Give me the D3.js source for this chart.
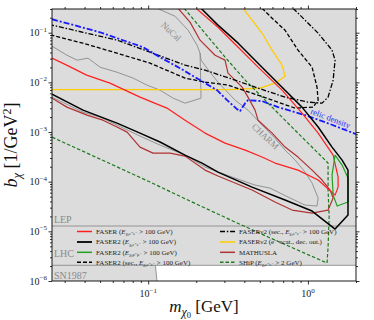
<!DOCTYPE html>
<html>
<head>
<meta charset="utf-8">
<script src="https://cdn.jsdelivr.net/npm/d3@7"></script>
<style>
body { margin: 0; background: #fff; }
svg text { font-family: "Liberation Serif", "DejaVu Serif", serif; }
</style>
</head>
<body>
<div id="graph"></div>
<script>
// axis ranges and ticks
var xDomain = [0.025, 2];
var yDomain = [1e-6, 0.3];
var xMajorExps = [-1, 0];
var yMajorExps = [-1, -2, -3, -4, -5, -6];

// excluded regions (LEP / LHC / SN1987 boundaries)
var lepBound = 1.28e-5;
var snBound = 2.07e-6;
var snEdge = [[0.111, 2.07e-6], [0.1135, 1e-6]];

// curves, [m_chi0 (GeV), b_chi (1/GeV^2)]
var faser = [[0.1995,0.31],[0.2735,0.129],[0.366,0.051],[0.4875,0.0202],[0.689,0.00697],[0.918,0.0024],
  [1.159,0.000951],[1.439,0.000343],[1.545,0.000124],[1.545,7.78e-5],[1.479,5.37e-5],[1.159,0.000108],
  [0.867,0.000171],[0.622,0.000237],[0.516,0.000313],[0.405,0.000432],[0.303,0.000598],[0.227,0.000951],
  [0.1702,0.00173],[0.131,0.00303],[0.0889,0.00504],[0.0577,0.00964],[0.0412,0.014],[0.0309,0.0222],[0.025,0.0307]];

var faser2 = [[0.2143,0.31],[0.2735,0.142],[0.366,0.0615],[0.516,0.0202],[0.689,0.008],[0.918,0.00317],
  [1.159,0.00126],[1.416,0.000497],[1.637,0.000272],[1.782,0.000171],[1.782,2.13e-5],[1.479,1.11e-5],
  [1.062,2.56e-5],[0.719,4.27e-5],[0.447,7.78e-5],[0.2735,0.000156],[0.2173,0.000237],[0.170,0.000343],
  [0.1186,0.00063],[0.0889,0.000951],[0.0638,0.00151],[0.0391,0.00276],[0.025,0.0058]];

var faser2mu = [[1.479,0.000343],[1.637,0.000216],[1.782,0.000118],[1.782,3.89e-5],[1.524,3.23e-5],
  [1.439,5.37e-5],[1.416,0.000136],[1.479,0.000343]];

var faser2sec = [[0.5164,0.31],[0.597,0.196],[0.7194,0.112],[0.867,0.0445],[1.062,0.0202],[1.14,0.008],
  [1.159,0.00438],[1.077,0.00317],[0.8318,0.00303],[0.6223,0.00419],[0.4467,0.00607],[0.3162,0.00879],
  [0.227,0.0101],[0.1702,0.0122],[0.1028,0.0243],[0.0638,0.0387],[0.0391,0.0615],[0.025,0.0891]];

var faserNu2sec = [[0.8072,0.31],[0.9594,0.179],[1.159,0.0977],[1.416,0.0445],[1.479,0.028],[1.439,0.0111],
  [1.337,0.00504],[1.227,0.00381],[1.002,0.004],[0.7194,0.00504],[0.4875,0.00764],[0.35,0.0111],
  [0.227,0.0176],[0.1702,0.0222],[0.1028,0.0405],[0.0638,0.0707],[0.0391,0.102],[0.025,0.142]];

var faserNu2scat = [[0.3926,0.31],[0.4467,0.179],[0.5164,0.0977],[0.597,0.0445],[0.6887,0.0222],
  [0.7194,0.0133],[0.6223,0.00964],[0.501,0.00764],[0.3258,0.00713],[0.025,0.00713]];

var mathusla = [[0.1538,0.31],[0.1828,0.163],[0.2113,0.0707],[0.2624,0.0352],[0.3027,0.028],[0.3162,0.0153],
  [0.3873,0.008],[0.4217,0.00504],[0.4667,0.00276],[0.4875,0.00173],[0.597,0.000951],[0.7194,0.000497],
  [0.867,0.000313],[1.062,0.000171],[1.227,0.000108],[1.377,6.78e-5],[1.439,4.68e-5],[1.337,2.68e-5],
  [1.062,2.33e-5],[0.796,2.68e-5],[0.622,3.89e-5],[0.447,6.78e-5],[0.2735,0.00013],[0.227,0.000171],
  [0.170,0.000327],[0.137,0.000376],[0.1072,0.000376],[0.0889,0.000497],[0.0738,0.000995],
  [0.0638,0.00126],[0.0521,0.00173],[0.0414,0.00219],[0.031,0.00317],[0.025,0.00481]];

var ship = [[0.168,0.31],[0.227,0.0977],[0.303,0.0321],[0.405,0.0111],[0.5395,0.00438],[0.719,0.00173],
  [0.959,0.000687],[1.109,0.000432],[1.337,0.000237],[1.337,6.78e-5],[1.358,1.94e-5],[1.337,4.83e-6],
  [1.318,2.3e-6],[0.918,3.84e-6],[0.5636,7.67e-6],[0.35,1.54e-5],[0.1828,4.07e-5],[0.1028,9.82e-5],
  [0.05,0.000285],[0.025,0.000789]];

var relic = [[0.025,0.187],[0.05,0.102],[0.0929,0.051],[0.1186,0.0321],[0.1581,0.0193],[0.1828,0.0146],
  [0.2698,0.00697],[0.3119,0.00438],[0.3597,0.00289],[0.3758,0.00264],[0.4046,0.00381],[0.4217,0.00438],
  [0.5164,0.00419],[0.6501,0.00317],[0.9594,0.00219],[1.279,0.00158],[2.0,0.000908]];

var nucal = [[0.1135,0.31],[0.1472,0.215],[0.1778,0.112],[0.2023,0.056],[0.2113,0.0387],[0.2143,0.00481],
  [0.1702,0.00381],[0.1432,0.00481],[0.1186,0.00697],[0.0984,0.00879],[0.0804,0.0122],[0.0638,0.016],
  [0.05,0.0202],[0.042,0.0307],[0.0359,0.028],[0.031,0.0352],[0.025,0.0535]];

var charm = [[0.2113,0.0387],[0.2143,0.028],[0.2438,0.016],[0.2735,0.0101],[0.35,0.00438],[0.4217,0.00276],
  [0.5164,0.00138],[0.6223,0.00075],[0.7194,0.000432],[0.8318,0.000272],[0.9594,0.000156],[1.062,9.38e-5],
  [1.159,4.68e-5],[1.14,3.23e-5],[0.9594,3.38e-5],[0.773,4.68e-5],[0.579,7.43e-5],[0.4667,8.55e-5],
  [0.335,0.000124],[0.227,0.000197],[0.1702,0.000343],[0.1186,0.000545],[0.0889,0.000828],
  [0.0638,0.00138],[0.05,0.002],[0.0391,0.00251],[0.025,0.00504]];

// curve labels: text, position, angle
var curveLabels = [
  {text: "NuCal", at: [0.138, 0.102], angle: 43, color: "#8a8a8a", size: 9},
  {text: "CHARM", at: [0.536, 0.000788], angle: 43, color: "#8a8a8a", size: 9},
  {text: "relic density", at: [1.377, 0.00182], angle: 21, color: "#2a2aff", size: 8.5}
];
var regionLabels = [
  {text: "LEP", at: [0.0257, 1.5e-5]},
  {text: "LHC", at: [0.0257, 3.0e-6]},
  {text: "SN1987", at: [0.0257, 1.1e-6]}
];

// legend: [prefix, variable, subscript, suffix]
var legendLabels = [
  ["FASER (", "E", "χ₀e⁺e⁻", " > 100 GeV)"],
  ["FASER2 (", "E", "χ₀e⁺e⁻", " > 100 GeV)"],
  ["FASER2 (", "E", "χ₀μ⁺μ⁻", " > 100 GeV)"],
  ["FASER2 (sec., ", "E", "χ₀e⁺e⁻", " > 100 GeV)"],
  ["FASERν2 (sec., ", "E", "χ₀e⁺e⁻", " > 100 GeV)"],
  ["FASERν2 (e⁻ scat., dec. out.)"],
  ["MATHUSLA"],
  ["SHiP (", "E", "χ₀e⁺e⁻", " > 2 GeV)"]
];

var styles = {
  faser:       {color: "#ff1f1f", width: 1.2, dash: null},
  faser2:      {color: "#000000", width: 1.5, dash: null},
  faser2mu:    {color: "#22a022", width: 1.2, dash: null},
  faser2sec:   {color: "#000000", width: 1.3, dash: "4,2"},
  faserNu2sec: {color: "#000000", width: 1.3, dash: "5,1.8,1.5,1.8"},
  faserNu2scat:{color: "#ffcc00", width: 1.2, dash: null},
  mathusla:    {color: "#b03232", width: 1.2, dash: null},
  ship:        {color: "#1c7a1c", width: 1.2, dash: "3.5,2"},
  relic:       {color: "#1a1aff", width: 1.8, dash: "6,2,2,2"},
  gray:        {color: "#8a8a8a", width: 0.9, dash: null}
};
var legendKeys = ["faser", "faser2", "faser2mu", "faser2sec", "faserNu2sec", "faserNu2scat", "mathusla", "ship"];

var margin = {top: 9, right: 18, bottom: 39, left: 52},
  width = 374 - margin.left - margin.right,
  height = 320 - margin.top - margin.bottom;

var xScale = d3.scaleLog().domain(xDomain).range([0, width]);
var yScale = d3.scaleLog().domain(yDomain).range([height, 0]);

var svg = d3.select("div#graph").append("svg")
  .attr("width", 374).attr("height", 320)
  .append("g")
  .attr("transform", "translate(" + margin.left + "," + margin.top + ")");

svg.append("clipPath").attr("id", "clip")
  .append("rect").attr("width", width).attr("height", height);
var plot = svg.append("g").attr("clip-path", "url(#clip)");

var line = d3.line()
  .x(function(d) { return xScale(d[0]); })
  .y(function(d) { return yScale(d[1]); });

// gray excluded background
plot.append("rect")
  .attr("x", xScale(xDomain[0])).attr("y", yScale(yDomain[1]))
  .attr("width", xScale(xDomain[1]) - xScale(xDomain[0]))
  .attr("height", yScale(yDomain[0]) - yScale(yDomain[1]))
  .attr("fill", "#dcdcdc");

// allowed corner below SN1987
var openCorner = [snEdge[0], [xDomain[1], snBound], [xDomain[1], yDomain[0]], snEdge[1]];
plot.append("path").attr("d", line(openCorner) + "Z").attr("fill", "#ffffff");

// region boundaries
[[[xDomain[0], lepBound], [xDomain[1], lepBound]],
 [[xDomain[0], snBound], [xDomain[1], snBound]],
 snEdge].forEach(function(seg) {
  plot.append("path").attr("d", line(seg))
    .attr("fill", "none").attr("stroke", "#8a8a8a").attr("stroke-width", 0.9);
});

var curves = [
  {data: charm, style: "gray"},
  {data: nucal, style: "gray"},
  {data: faserNu2scat, style: "faserNu2scat"},
  {data: ship, style: "ship"},
  {data: mathusla, style: "mathusla"},
  {data: faser2sec, style: "faser2sec"},
  {data: faserNu2sec, style: "faserNu2sec"},
  {data: relic, style: "relic"},
  {data: faser, style: "faser"},
  {data: faser2mu, style: "faser2mu"},
  {data: faser2, style: "faser2"}
];

plot.selectAll("path.curve").data(curves).enter().append("path")
  .attr("class", "curve")
  .attr("d", function(d) { return line(d.data); })
  .attr("fill", "none")
  .attr("stroke", function(d) { return styles[d.style].color; })
  .attr("stroke-width", function(d) { return styles[d.style].width; })
  .attr("stroke-dasharray", function(d) { return styles[d.style].dash; })
  .attr("stroke-linejoin", "round");

// curve labels
plot.selectAll("text.clabel").data(curveLabels).enter().append("text")
  .attr("class", "clabel")
  .attr("transform", function(d) {
    return "translate(" + xScale(d.at[0]) + "," + yScale(d.at[1]) + ") rotate(" + d.angle + ")";
  })
  .attr("text-anchor", "middle").attr("dominant-baseline", "middle")
  .attr("font-size", function(d) { return d.size; })
  .attr("fill", function(d) { return d.color; })
  .text(function(d) { return d.text; });

plot.selectAll("text.rlabel").data(regionLabels).enter().append("text")
  .attr("class", "rlabel")
  .attr("x", function(d) { return xScale(d.at[0]); })
  .attr("y", function(d) { return yScale(d.at[1]); })
  .attr("font-size", 10).attr("fill", "#8a8a8a")
  .text(function(d) { return d.text; });

// legend
var legendRows = [222.5, 233, 243.3, 253.3];
var legend = svg.append("g").attr("class", "legend");
legendKeys.forEach(function(key, i) {
  var col = i < 4 ? 0 : 1, row = i % 4;
  var x0 = col === 0 ? 25 : 168, y0 = legendRows[row];
  var st = styles[key];
  legend.append("line")
    .attr("x1", x0).attr("x2", x0 + 15).attr("y1", y0).attr("y2", y0)
    .attr("stroke", st.color).attr("stroke-width", st.width + 0.3)
    .attr("stroke-dasharray", st.dash);
  var parts = legendLabels[i];
  var t = legend.append("text").attr("x", x0 + 19).attr("y", y0 + 2.3)
    .attr("font-size", 7).attr("fill", "#222");
  t.append("tspan").text(parts[0]);
  if (parts.length > 1) {
    t.append("tspan").attr("font-style", "italic").text(parts[1]);
    t.append("tspan").attr("font-size", 4.3).attr("dy", 1.6).text(parts[2]);
    t.append("tspan").attr("dy", -1.6).text(parts[3]);
  }
});

// ticks
function minorTicks(domain) {
  var out = [];
  for (var e = Math.floor(Math.log10(domain[0])); e <= Math.ceil(Math.log10(domain[1])); e++) {
    for (var k = 2; k <= 9; k++) {
      var v = k * Math.pow(10, e);
      if (v >= domain[0] * 0.999 && v <= domain[1] * 1.001) out.push(v);
    }
  }
  return out;
}
var xMajors = xMajorExps.map(function(e) { return Math.pow(10, e); });
var yMajors = yMajorExps.map(function(e) { return Math.pow(10, e); });

function styleAxis(sel) {
  sel.select(".domain").remove();
  sel.selectAll("line").attr("stroke", "#000").attr("stroke-width", 0.8);
}
svg.append("g").attr("transform", "translate(0," + height + ")")
  .call(d3.axisBottom(xScale).tickValues(xMajors).tickSize(3.5).tickFormat("")).call(styleAxis);
svg.append("g").attr("transform", "translate(0," + height + ")")
  .call(d3.axisBottom(xScale).tickValues(minorTicks(xDomain)).tickSize(2).tickFormat("")).call(styleAxis);
svg.append("g")
  .call(d3.axisTop(xScale).tickValues(xMajors).tickSize(3.5).tickFormat("")).call(styleAxis);
svg.append("g")
  .call(d3.axisTop(xScale).tickValues(minorTicks(xDomain)).tickSize(2).tickFormat("")).call(styleAxis);
svg.append("g")
  .call(d3.axisLeft(yScale).tickValues(yMajors).tickSize(3.5).tickFormat("")).call(styleAxis);
svg.append("g")
  .call(d3.axisLeft(yScale).tickValues(minorTicks(yDomain)).tickSize(2).tickFormat("")).call(styleAxis);
svg.append("g").attr("transform", "translate(" + width + ",0)")
  .call(d3.axisRight(yScale).tickValues(yMajors).tickSize(3.5).tickFormat("")).call(styleAxis);
svg.append("g").attr("transform", "translate(" + width + ",0)")
  .call(d3.axisRight(yScale).tickValues(minorTicks(yDomain)).tickSize(2).tickFormat("")).call(styleAxis);

// tick labels 10^n
xMajorExps.forEach(function(e) {
  var t = svg.append("text").attr("x", xScale(Math.pow(10, e))).attr("y", height + 16)
    .attr("text-anchor", "middle").attr("font-size", 10).attr("fill", "#222");
  t.append("tspan").text("10");
  t.append("tspan").attr("font-size", 7).attr("dy", -4.5).text(e < 0 ? "−" + (-e) : "" + e);
});
yMajorExps.forEach(function(e) {
  var t = svg.append("text").attr("x", -5).attr("y", yScale(Math.pow(10, e)) + 3.5)
    .attr("text-anchor", "end").attr("font-size", 10).attr("fill", "#222");
  t.append("tspan").text("10");
  t.append("tspan").attr("font-size", 7).attr("dy", -4.5).text(e < 0 ? "−" + (-e) : "" + e);
});

// frame
svg.append("rect").attr("width", width).attr("height", height)
  .attr("fill", "none").attr("stroke", "#000").attr("stroke-width", 0.9);

// axis titles
var xt = svg.append("text").attr("x", width / 2).attr("y", height + 31)
  .attr("text-anchor", "middle").attr("font-size", 17).attr("fill", "#111");
xt.append("tspan").attr("font-style", "italic").text("m");
xt.append("tspan").attr("font-style", "italic").attr("font-size", 12).attr("dy", 3.5).text("χ");
xt.append("tspan").attr("font-size", 8.5).attr("dy", 2).text("0");
xt.append("tspan").attr("dy", -5.5).text(" [GeV]");

var yt = svg.append("text")
  .attr("transform", "translate(" + (-35) + "," + (height / 2) + ") rotate(-90)")
  .attr("text-anchor", "middle").attr("font-size", 18).attr("fill", "#111");
yt.append("tspan").attr("font-style", "italic").text("b");
yt.append("tspan").attr("font-style", "italic").attr("font-size", 12.5).attr("dy", 4).text("χ");
yt.append("tspan").attr("dy", -4).text(" [1/GeV");
yt.append("tspan").attr("font-size", 12).attr("dy", -6.5).text("2");
yt.append("tspan").attr("dy", 6.5).text("]");
</script>
</body>
</html>
